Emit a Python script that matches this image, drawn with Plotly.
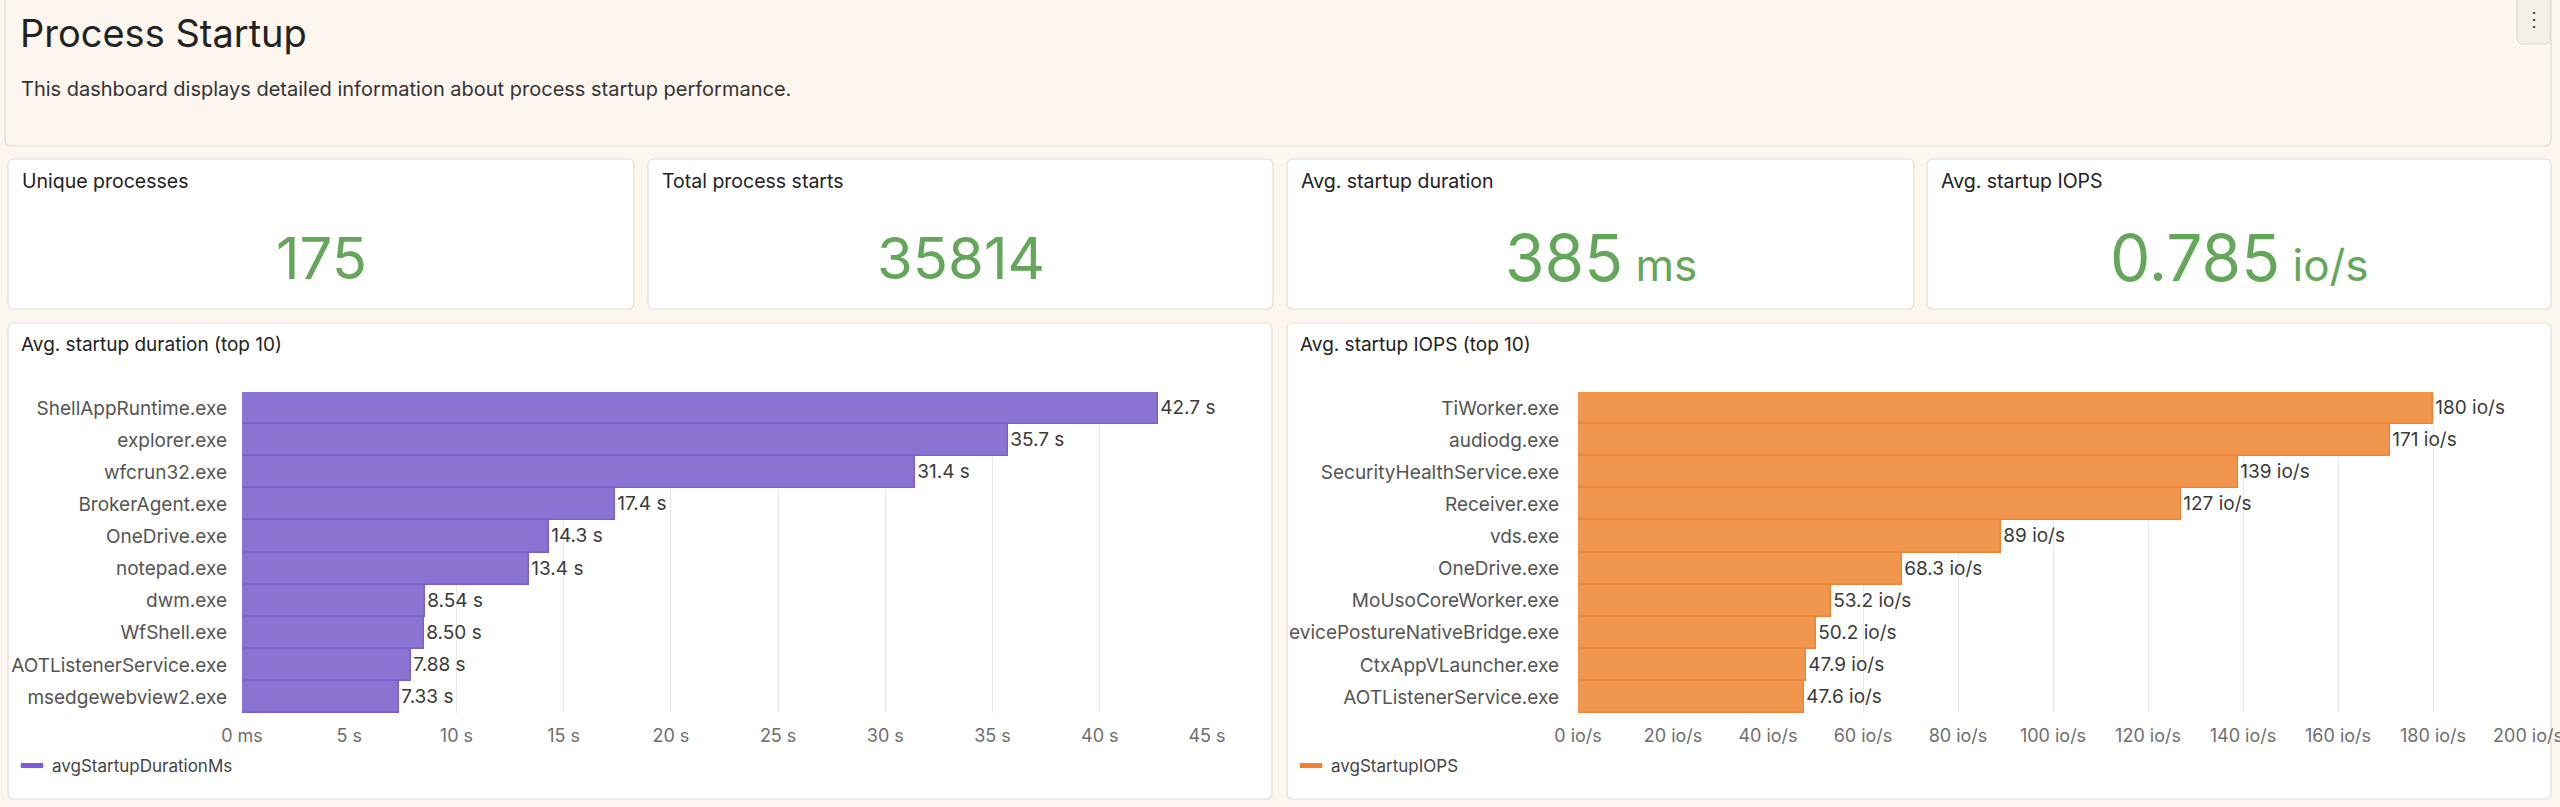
import plotly.graph_objects as go

W, H = 2560, 807

# ---------------- data ----------------
dur_procs = ["ShellAppRuntime.exe", "explorer.exe", "wfcrun32.exe", "BrokerAgent.exe",
             "OneDrive.exe", "notepad.exe", "dwm.exe", "WfShell.exe",
             "AOTListenerService.exe", "msedgewebview2.exe"]
dur_values_s = [42.7, 35.7, 31.4, 17.4, 14.3, 13.4, 8.54, 8.50, 7.88, 7.33]
dur_labels = ["42.7 s", "35.7 s", "31.4 s", "17.4 s", "14.3 s", "13.4 s",
              "8.54 s", "8.50 s", "7.88 s", "7.33 s"]
dur_tickvals = [0, 5, 10, 15, 20, 25, 30, 35, 40, 45]
dur_ticktext = ["0 ms", "5 s", "10 s", "15 s", "20 s", "25 s", "30 s", "35 s", "40 s", "45 s"]

iops_procs = ["TiWorker.exe", "audiodg.exe", "SecurityHealthService.exe", "Receiver.exe",
              "vds.exe", "OneDrive.exe", "MoUsoCoreWorker.exe",
              "evicePostureNativeBridge.exe", "CtxAppVLauncher.exe", "AOTListenerService.exe"]
iops_values = [180, 171, 139, 127, 89, 68.3, 53.2, 50.2, 47.9, 47.6]
iops_labels = ["180 io/s", "171 io/s", "139 io/s", "127 io/s", "89 io/s", "68.3 io/s",
               "53.2 io/s", "50.2 io/s", "47.9 io/s", "47.6 io/s"]
iops_tickvals = [0, 20, 40, 60, 80, 100, 120, 140, 160, 180, 200]
iops_ticktext = ["0 io/s", "20 io/s", "40 io/s", "60 io/s", "80 io/s", "100 io/s",
                 "120 io/s", "140 io/s", "160 io/s", "180 io/s", "200 io/s"]

stat_titles = ["Unique processes", "Total process starts", "Avg. startup duration", "Avg. startup IOPS"]
stat_values = ["175", "35814", "385", "0.785"]
stat_units = ["", "", "ms", "io/s"]

# ---------------- helpers ----------------
def X(px):
    return px / W

def Y(py):
    return 1 - py / H

def rrect(x0, y0, x1, y1, r=6):
    return (f"M {X(x0+r)},{Y(y0)} L {X(x1-r)},{Y(y0)} Q {X(x1)},{Y(y0)} {X(x1)},{Y(y0+r)} "
            f"L {X(x1)},{Y(y1-r)} Q {X(x1)},{Y(y1)} {X(x1-r)},{Y(y1)} "
            f"L {X(x0+r)},{Y(y1)} Q {X(x0)},{Y(y1)} {X(x0)},{Y(y1-r)} "
            f"L {X(x0)},{Y(y0+r)} Q {X(x0)},{Y(y0)} {X(x0+r)},{Y(y0)} Z")

FONT = "Inter, Roboto, 'Open Sans', sans-serif"
BG = "#fdf6ef"
PURPLE_FILL = "#8b74d1"
PURPLE_LINE = "#7b5fcf"
ORANGE_FILL = "#f0964e"
ORANGE_LINE = "#ef8436"
GREEN = "#64a65a"

fig = go.Figure()

# bars
fig.add_trace(go.Bar(
    x=dur_values_s, y=dur_procs, orientation="h",
    marker=dict(color=PURPLE_FILL, line=dict(color=PURPLE_LINE, width=1.5)),
    text=dur_labels, textposition="outside", cliponaxis=False,
    textfont=dict(size=19, color="#3a3a3a", family=FONT),
    xaxis="x", yaxis="y", showlegend=False, hoverinfo="skip"))
fig.add_trace(go.Bar(
    x=iops_values, y=iops_procs, orientation="h",
    marker=dict(color=ORANGE_FILL, line=dict(color=ORANGE_LINE, width=1.5)),
    text=iops_labels, textposition="outside", cliponaxis=False,
    textfont=dict(size=19, color="#3a3a3a", family=FONT),
    xaxis="x2", yaxis="y2", showlegend=False, hoverinfo="skip"))

# legend entries
fig.add_trace(go.Scatter(
    x=[None], y=[None], mode="markers", name="avgStartupDurationMs",
    marker=dict(symbol="line-ew", size=18, line=dict(color="#7b5cd6", width=6)),
    xaxis="x", yaxis="y", legend="legend"))
fig.add_trace(go.Scatter(
    x=[None], y=[None], mode="markers", name="avgStartupIOPS",
    marker=dict(symbol="line-ew", size=18, line=dict(color="#f08030", width=6)),
    xaxis="x2", yaxis="y2", legend="legend2"))

ydom = [Y(713), Y(392)]
axis_common = dict(showline=False, zeroline=False, showgrid=True, gridcolor="#e9e9e9",
                   gridwidth=1, ticks="", tickfont=dict(size=18, color="#6e6e6e", family=FONT),
                   ticklabelstandoff=10, fixedrange=True, automargin=False,
                   ticklabeloverflow="allow")
yaxis_common = dict(showline=False, zeroline=False, showgrid=False, ticks="",
                    tickfont=dict(size=19, color="#555555", family=FONT),
                    autorange="reversed", type="category", fixedrange=True, automargin=False)

fig.update_layout(
    template="none",
    width=W, height=H,
    margin=dict(l=0, r=0, t=0, b=0, autoexpand=False),
    paper_bgcolor=BG, plot_bgcolor="rgba(0,0,0,0)",
    font=dict(family=FONT, color="#333333"),
    bargap=0.0,
    xaxis=dict(domain=[X(242), X(1207)], range=[0, 45], tickvals=dur_tickvals,
               ticktext=dur_ticktext, anchor="y", **axis_common),
    yaxis=dict(domain=ydom, anchor="x", ticklabelstandoff=14, **yaxis_common),
    xaxis2=dict(domain=[X(1578), X(2528)], range=[0, 200], tickvals=iops_tickvals,
                ticktext=iops_ticktext, anchor="y2", **axis_common),
    yaxis2=dict(domain=ydom, anchor="x2", ticklabelstandoff=18, **yaxis_common),
    legend=dict(x=X(12), y=Y(766), xanchor="left", yanchor="middle", bgcolor="rgba(0,0,0,0)",
                font=dict(size=17, color="#444444", family=FONT), itemclick=False),
    legend2=dict(x=X(1291), y=Y(766), xanchor="left", yanchor="middle", bgcolor="rgba(0,0,0,0)",
                 font=dict(size=17, color="#444444", family=FONT), itemclick=False),
)

shapes = []
# header panel
shapes.append(dict(type="path", path=rrect(5, -10, 2551, 146, 7), xref="paper", yref="paper",
                   fillcolor="#fdf6ef", line=dict(color="#dedad3", width=1.2), layer="below"))
# stat panels
stat_boxes = [(8, 634), (648, 1273), (1287, 1914), (1927, 2551)]
for (a, b) in stat_boxes:
    shapes.append(dict(type="path", path=rrect(a, 159, b, 309, 6), xref="paper", yref="paper",
                       fillcolor="#ffffff", line=dict(color="#e3ded6", width=1.2), layer="below"))
# chart panels
for (a, b) in [(8, 1272), (1287, 2551)]:
    shapes.append(dict(type="path", path=rrect(a, 323, b, 799, 6), xref="paper", yref="paper",
                       fillcolor="#ffffff", line=dict(color="#e3ded6", width=1.2), layer="below"))
# menu button
shapes.append(dict(type="path", path=rrect(2517, -8, 2550, 44, 6), xref="paper", yref="paper",
                   fillcolor="#f4f0e7", line=dict(color="#dcd7ce", width=1), layer="above"))
fig.update_layout(shapes=shapes)

ann = []
def add_ann(text, px, py, size, color, xanchor="left"):
    ann.append(dict(text=text, x=X(px), y=Y(py), xref="paper", yref="paper",
                    xanchor=xanchor, yanchor="middle", showarrow=False,
                    font=dict(size=size, color=color, family=FONT)))

add_ann("Process Startup", 18, 33, 38, "#222222")
add_ann("This dashboard displays detailed information about process startup performance.",
        19, 89, 20, "#333333")
add_ann("⋮", 2533.5, 19, 20, "#444444", xanchor="center")

for i, (a, b) in enumerate(stat_boxes):
    add_ann(stat_titles[i], a + 12, 181, 19.5, "#222222")
    if stat_units[i]:
        txt = f"{stat_values[i]}<span style='font-size:44px'> {stat_units[i]}</span>"
        add_ann(txt, (a + b) / 2, 258, 64, GREEN, xanchor="center")
    else:
        add_ann(stat_values[i], (a + b) / 2, 258, 58, GREEN, xanchor="center")

add_ann("Avg. startup duration (top 10)", 19, 345, 19, "#222222")
add_ann("Avg. startup IOPS (top 10)", 1298, 345, 19, "#222222")
fig.update_layout(annotations=ann)

fig.write_html("out.html")
